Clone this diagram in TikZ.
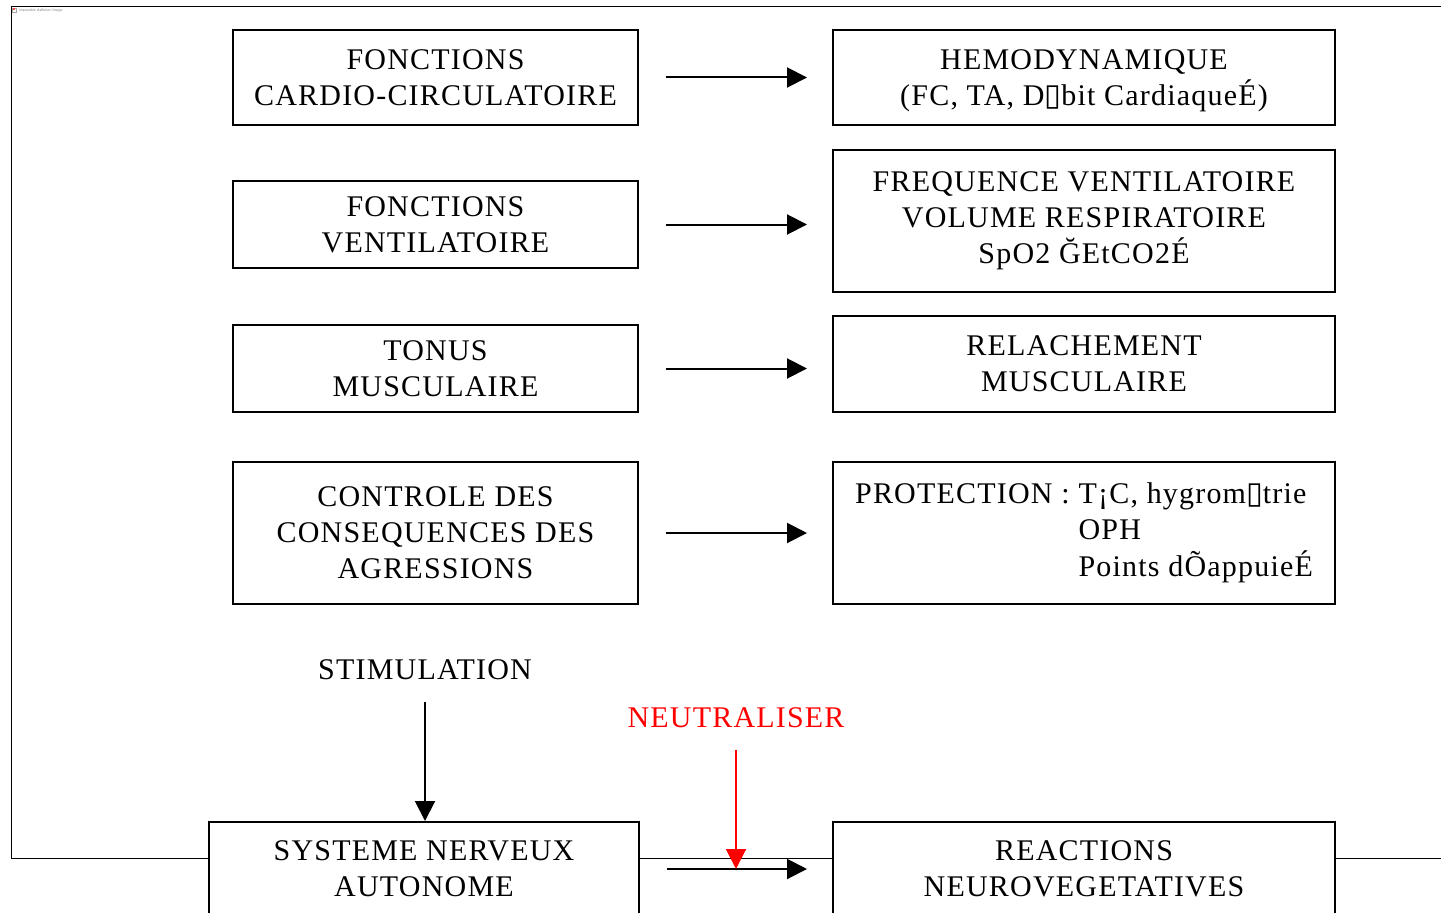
\documentclass[tikz,border=0pt]{standalone}
\usepackage{fontspec}
\setmainfont{Liberation Serif}[LetterSpace=4]
\newfontfamily\symbolfont{DejaVu Sans}
\newfontfamily\notefont{Liberation Sans}
\usetikzlibrary{arrows.meta}
% placeholder glyph for characters the source font could not show
\newcommand{\nog}{{\symbolfont\fontsize{23}{23}\selectfont ▯}}
\tikzset{
  box/.style={draw, line width=1.5pt, fill=white, align=center, inner sep=0pt},
  leftbox/.style={box, minimum width=303.75pt},
  rightbox/.style={box, minimum width=376.5pt},
  flow/.style={line width=1.5pt, -{Triangle[length=15pt,width=15pt]}},
  rowarrow/.style={flow, shorten <=20pt, shorten >=18.75pt},
  label/.style={inner sep=0pt},
}
\begin{document}
\begin{tikzpicture}[x=0.75pt, y=-0.75pt, font=\fontsize{22.5}{27}\selectfont]
\useasboundingbox (0,0) rectangle (1441,913);
\clip (0,0) rectangle (1441,913);

% outer frame of the embedded picture
\draw[line width=0.75pt] (1441,7) -- (11,7) -- (11,858.5) -- (1441,858.5);
\draw[gray!70, line width=0.3pt] (12.5,8) rectangle (16.5,12.5);
\fill[red!70] (13,8.5) rectangle (14.8,10.3);
\node[label, anchor=west, text=gray, font=\notefont\fontsize{2.6}{3}\selectfont] (note) at (19,10.3) {Impossible d'afficher l'image};

% left column: functions
\node[leftbox, minimum height=71.25pt] (cardio) at (435.5,77.5) {FONCTIONS\\CARDIO-CIRCULATOIRE};
\node[leftbox, minimum height=65.25pt] (ventil) at (435.5,224.5) {FONCTIONS\\VENTILATOIRE};
\node[leftbox, minimum height=65.25pt] (tonus) at (435.5,368.5) {TONUS\\MUSCULAIRE};
\node[leftbox, minimum height=106.5pt] (contr) at (435.5,533) {CONTROLE DES\\CONSEQUENCES DES\\AGRESSIONS};
\node[box, minimum width=322.5pt, minimum height=70.5pt] (sna) at (424,869) {SYSTEME NERVEUX\\AUTONOME};

% right column: monitored effects
\node[rightbox, minimum height=71.25pt, text depth=0pt] (hemo) at (1084,77.5) {HEMODYNAMIQUE\\(FC, TA, D\nog bit CardiaqueÉ)};
\node[rightbox, minimum height=106.5pt] (resp) at (1084,221) {FREQUENCE VENTILATOIRE\\VOLUME RESPIRATOIRE\\SpO2 ĞEtCO2É};
\node[rightbox, minimum height=72pt] (relax) at (1084,364) {RELACHEMENT\\MUSCULAIRE};
\node[rightbox, minimum height=106.5pt] (prot) at (1084,533) {\begin{tabular}{@{}l@{\hspace{0.3em}}l@{}}
PROTECTION : & T¡C, hygrom\nog trie\\
& OPH\\
& Points dÕappuieÉ
\end{tabular}};
\node[rightbox, minimum height=70.5pt] (neuro) at (1084,869) {REACTIONS\\NEUROVEGETATIVES};

% row connectors
\draw[rowarrow] (cardio.east) -- (cardio.east -| hemo.west);
\draw[rowarrow] (ventil.east) -- (ventil.east -| resp.west);
\draw[rowarrow] (tonus.east) -- (tonus.east -| relax.west);
\draw[rowarrow] (contr.east) -- (contr.east -| prot.west);
\draw[rowarrow] (sna.east) -- (neuro.west);

% stimulation and neutralisation
\node[label] (stim) at (425,670) {STIMULATION};
\draw[flow, shorten <=16.5pt] (stim.south) -- (stim.south |- sna.north);
\node[label, text=red] (neut) at (736,718) {NEUTRALISER};
\coordinate (hit) at (neut.south |- sna.east);
\draw[flow, red, shorten <=16.5pt] (neut.south) -- (hit);
\end{tikzpicture}
\end{document}
